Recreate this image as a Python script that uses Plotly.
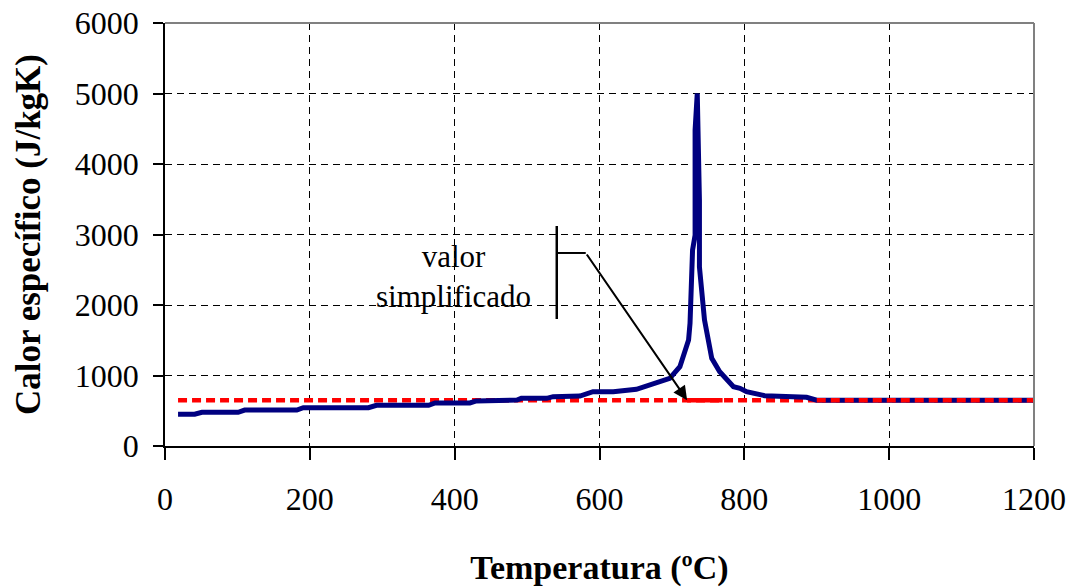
import plotly.graph_objects as go

# Blue curve: specific heat vs temperature
temp = [18, 41, 51, 101, 110, 182, 191, 281, 292, 364, 373, 421, 430, 486, 492, 527, 536, 573,
        591, 619, 651, 674, 697, 711, 716, 723, 725, 727, 728.5, 732, 732, 735, 738, 738, 745,
        752, 755, 766, 785, 794, 803, 828, 886, 900, 1200]
cp = [450, 450, 478, 478, 510, 510, 543, 543, 577, 577, 610, 610, 640, 652, 676, 676, 700, 709,
      770, 770, 804, 875, 960, 1125, 1290, 1504, 1740, 2260, 2780, 2990, 4480, 5000, 3490, 2540, 1787,
      1408, 1243, 1054, 841, 818, 770, 714, 690, 650, 650]

# Red dashed: simplified value
simp_T = [18, 1200]
simp_cp = [650, 650]
simp_solid_T = [721, 770]
simp_solid_cp = [650, 650]

x_ticks = [0, 200, 400, 600, 800, 1000, 1200]
y_ticks = [0, 1000, 2000, 3000, 4000, 5000, 6000]

serif = "Liberation Serif, Times New Roman, serif"

fig = go.Figure()
fig.add_trace(go.Scatter(x=simp_T, y=simp_cp, mode="lines",
                         line=dict(color="#ff0000", width=4.5, dash="9px,5px"),
                         showlegend=False, hoverinfo="skip"))
fig.add_trace(go.Scatter(x=simp_solid_T, y=simp_solid_cp, mode="lines",
                         line=dict(color="#ff0000", width=4.5),
                         showlegend=False, hoverinfo="skip"))
fig.add_trace(go.Scatter(x=temp, y=cp, mode="lines",
                         line=dict(color="#000080", width=5),
                         showlegend=False))
# red dashes drawn on top again where they overlap the blue
fig.add_trace(go.Scatter(x=[900, 1200], y=[650, 650], mode="lines",
                         line=dict(color="#ff0000", width=4.5, dash="9px,5px"),
                         showlegend=False, hoverinfo="skip"))

fig.update_xaxes(range=[0, 1200], tickvals=x_ticks, ticktext=[str(v) for v in x_ticks],
                 showgrid=True, gridcolor="#000000", gridwidth=1, griddash="7px,5px",
                 showline=True, linecolor="#000000", linewidth=1.5,
                 ticks="outside", ticklen=12, tickcolor="#000000", tickwidth=1.5,
                 tickfont=dict(family=serif, size=32, color="#000000"),
                 ticklabelstandoff=12, automargin=False,
                 zeroline=False,
                 title=dict(text="<b>Temperatura (ºC)</b>",
                            font=dict(family=serif, size=34, color="#000000"), standoff=40))
fig.update_yaxes(range=[0, 6000], tickvals=y_ticks, ticktext=[str(v) for v in y_ticks],
                 showgrid=True, gridcolor="#000000", gridwidth=1, griddash="7px,5px",
                 showline=True, linecolor="#000000", linewidth=1.5,
                 ticks="outside", ticklen=10, tickcolor="#000000", tickwidth=1.5,
                 tickfont=dict(family=serif, size=32, color="#000000"),
                 ticklabelstandoff=8, automargin=False,
                 zeroline=False,
                 title=dict(text="<b>Calor específico (J/kgK)</b>",
                            font=dict(family=serif, size=35, color="#000000"), standoff=24))

# top and right frame (gray)
fig.add_shape(type="line", xref="paper", yref="paper", x0=0, x1=1, y0=1, y1=1,
              line=dict(color="#808080", width=2))
fig.add_shape(type="line", xref="paper", yref="paper", x0=1, x1=1, y0=0, y1=1,
              line=dict(color="#808080", width=2))

# annotation callout
fig.add_shape(type="line", x0=541, x1=541, y0=1801, y1=3121, line=dict(color="#000000", width=2.5))
fig.add_shape(type="line", x0=541, x1=581, y0=2738, y1=2738, line=dict(color="#000000", width=2))
fig.add_annotation(x=721, y=650, ax=581, ay=2738, axref="x", ayref="y", xref="x", yref="y",
                   showarrow=True, arrowhead=2, arrowsize=1.4, arrowwidth=2, arrowcolor="#000000",
                   text="")
fig.add_annotation(x=398, y=2410, xref="x", yref="y", showarrow=False,
                   text="valor<br>simplificado", align="center",
                   font=dict(family=serif, size=31, color="#000000"))

fig.update_layout(width=1072, height=587, margin=dict(l=165, r=38, t=23, b=141),
                  paper_bgcolor="#ffffff", plot_bgcolor="#ffffff", showlegend=False)

fig.write_html("out.html")
